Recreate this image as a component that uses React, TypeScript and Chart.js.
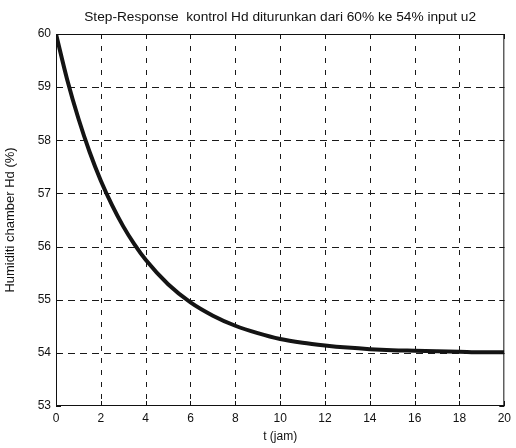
import React, { useEffect, useRef } from "react";
import { Chart, registerables } from "chart.js";

Chart.register(...registerables);

const titleText = "Step-Response  kontrol Hd diturunkan dari 60% ke 54% input u2";
const xAxisTitle = "t (jam)";
const yAxisTitle = "Humiditi chamber Hd (%)";

const timeJam = [0, 0.5, 1, 1.5, 2, 2.5, 3, 3.5, 4, 5, 6, 7, 8, 9, 10, 11, 12, 13, 14, 15, 16, 17, 18, 19, 20];
const humidity = [60, 59.14, 58.41, 57.78, 57.24, 56.78, 56.38, 56.04, 55.75, 55.29, 54.95, 54.7, 54.51, 54.37, 54.26, 54.19, 54.14, 54.1, 54.07, 54.05, 54.04, 54.03, 54.02, 54.01, 54.01];

const xMin = 0;
const xMax = 20;
const xStep = 2;
const yMin = 53;
const yMax = 60;
const yStep = 1;

const FONT = "'Liberation Sans', Arial, sans-serif";
const INK = "#111111";

const frameTicks = {
  id: "frameTicks",
  beforeDatasetsDraw(chart: any) {
    const { ctx, chartArea } = chart;
    const { left, right, top, bottom } = chartArea;
    const xs = chart.scales.x;
    const ys = chart.scales.y;
    ctx.save();
    ctx.strokeStyle = "#1a1a1a";
    ctx.lineWidth = 1;
    ctx.setLineDash([5, 7]);
    ctx.beginPath();
    xs.ticks.forEach((t: any) => {
      const px = Math.round(xs.getPixelForValue(t.value)) + 0.5;
      if (px <= left + 1 || px >= right - 1) return;
      ctx.moveTo(px, top);
      ctx.lineTo(px, bottom);
    });
    ctx.stroke();
    ctx.setLineDash([7, 5]);
    ctx.beginPath();
    ys.ticks.forEach((t: any) => {
      const py = Math.round(ys.getPixelForValue(t.value)) + 0.5;
      if (py <= top + 1 || py >= bottom - 1) return;
      ctx.moveTo(left, py);
      ctx.lineTo(right, py);
    });
    ctx.stroke();
    ctx.restore();
  },
  afterDraw(chart: any) {
    const { ctx, chartArea } = chart;
    const { left, right, top, bottom } = chartArea;
    const xs = chart.scales.x;
    const ys = chart.scales.y;
    ctx.save();
    ctx.strokeStyle = INK;
    ctx.lineWidth = 1;
    ctx.setLineDash([]);
    ctx.strokeRect(left + 0.5, top + 0.5, right - left - 1, bottom - top - 1);
    const len = 5;
    ctx.beginPath();
    xs.ticks.forEach((t: any) => {
      const px = Math.round(xs.getPixelForValue(t.value)) + 0.5;
      ctx.moveTo(px, bottom);
      ctx.lineTo(px, bottom - len);
      ctx.moveTo(px, top);
      ctx.lineTo(px, top + len);
    });
    ys.ticks.forEach((t: any) => {
      const py = Math.round(ys.getPixelForValue(t.value)) + 0.5;
      ctx.moveTo(left, py);
      ctx.lineTo(left + len, py);
      ctx.moveTo(right, py);
      ctx.lineTo(right - len, py);
    });
    ctx.stroke();
    // title centred over the plot area
    ctx.fillStyle = INK;
    ctx.font = `13.7px ${FONT}`;
    ctx.textAlign = "center";
    ctx.textBaseline = "middle";
    ctx.fillText(titleText, (left + right) / 2, 17);
    ctx.restore();
  },
};

export default function App() {
  const canvasRef = useRef<HTMLCanvasElement | null>(null);

  useEffect(() => {
    document.body.style.margin = "0";
    document.body.style.background = "#ffffff";
    const canvas = canvasRef.current;
    if (!canvas) return;
    const points = timeJam.map((t, i) => ({ x: t, y: humidity[i] }));
    const chart = new Chart(canvas, {
      type: "line",
      data: {
        datasets: [
          {
            data: points,
            borderColor: "#141414",
            borderWidth: 4,
            pointRadius: 0,
            cubicInterpolationMode: "monotone",
            fill: false,
          },
        ],
      },
      options: {
        responsive: false,
        animation: false,
        devicePixelRatio: 1,
        layout: { padding: { left: 0, right: 7, top: 34, bottom: 0 } },
        plugins: {
          legend: { display: false },
          tooltip: { enabled: false },
          title: { display: false, text: titleText },
        },
        scales: {
          x: {
            type: "linear",
            min: xMin,
            max: xMax,
            ticks: {
              stepSize: xStep,
              color: INK,
              font: { family: FONT, size: 12 },
              padding: 5,
              maxRotation: 0,
            },
            grid: { display: false, drawTicks: false },
            border: { display: false },
            title: {
              display: true,
              text: xAxisTitle,
              color: INK,
              font: { family: FONT, size: 12 },
              padding: { top: 0, bottom: 4 },
            },
            afterFit(scale: any) {
              scale.height = 42;
            },
          },
          y: {
            type: "linear",
            min: yMin,
            max: yMax,
            ticks: {
              stepSize: yStep,
              color: INK,
              font: { family: FONT, size: 12 },
              padding: 5,
            },
            grid: { display: false, drawTicks: false },
            border: { display: false },
            title: {
              display: true,
              text: yAxisTitle,
              color: INK,
              font: { family: FONT, size: 13 },
              padding: { top: 3, bottom: 0 },
            },
            afterFit(scale: any) {
              scale.width = 56;
            },
          },
        },
      },
      plugins: [frameTicks],
    } as any);
    return () => chart.destroy();
  }, []);

  return (
    <div style={{ position: "fixed", left: 0, top: 0, width: 516, height: 448, background: "#fff" }}>
      <canvas ref={canvasRef} width={516} height={448} />
    </div>
  );
}
